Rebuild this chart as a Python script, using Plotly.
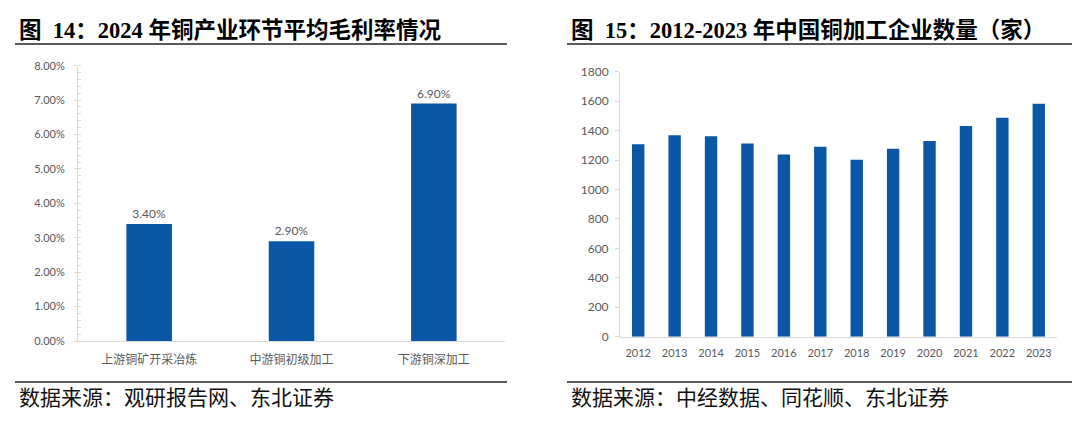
import plotly.graph_objects as go

# ---- data ----
stages = ["上游铜矿开采冶炼", "中游铜初级加工", "下游铜深加工"]
margins = [0.034, 0.029, 0.069]
margin_labels = ["3.40%", "2.90%", "6.90%"]

years = ["2012", "2013", "2014", "2015", "2016", "2017", "2018", "2019",
         "2020", "2021", "2022", "2023"]
companies = [1308, 1369, 1362, 1312, 1238, 1290, 1202, 1276, 1329, 1431, 1487, 1582]

title_left = "图  14：2024 年铜产业环节平均毛利率情况"
title_right = "图  15：2012-2023 年中国铜加工企业数量（家）"
source_left = "数据来源：观研报告网、东北证券"
source_right = "数据来源：中经数据、同花顺、东北证券"

# page body has an 8px default margin: size figure so it fills the window
OFF = 8
W, H = 1080 - OFF, 424 - OFF
BAR = "#0A57A6"
GREY = "#595959"
AXIS = "#D9D9D9"
NUM_FONT = "Lato, Liberation Sans, sans-serif"
CJK_FONT = "Noto Sans CJK SC"
TITLE_FONT = "Liberation Serif, Noto Sans CJK SC"
SRC_FONT = "Liberation Serif, Noto Sans CJK SC"


def px(x):
    return (x - OFF) / W


def py(y):
    return 1 - (y - OFF) / H


fig = go.Figure()

fig.add_trace(go.Bar(
    x=stages, y=margins, text=margin_labels, textposition="outside",
    textfont=dict(family=NUM_FONT, size=12, color=GREY),
    marker=dict(color=BAR, line=dict(width=0)), cliponaxis=False,
    xaxis="x", yaxis="y", hoverinfo="skip", showlegend=False,
))

fig.add_trace(go.Bar(
    x=years, y=companies, width=0.34,
    marker=dict(color=BAR, line=dict(width=0)),
    xaxis="x2", yaxis="y2", hoverinfo="skip", showlegend=False,
))

fig.update_layout(
    width=W, height=H,
    margin=dict(l=0, r=0, t=0, b=0, autoexpand=False),
    paper_bgcolor="white", plot_bgcolor="white",
    bargap=0.68,
    xaxis=dict(
        domain=[px(78), px(505)], anchor="y", showline=True, linecolor=AXIS, linewidth=1,
        ticks="", showgrid=False, zeroline=False, automargin=False,
        tickfont=dict(family=CJK_FONT, size=12, color=GREY),
        ticklabelstandoff=8, fixedrange=True,
    ),
    yaxis=dict(
        domain=[py(341), py(65.7)], anchor="x", range=[0, 0.08],
        tickvals=[i / 100 for i in range(9)], tickformat=".2%",
        showline=True, linecolor=AXIS, linewidth=1, automargin=False,
        ticks="outside", ticklen=3, tickcolor=AXIS,
        minor=dict(ticks="inside", ticklen=3, dtick=0.002, tickcolor=AXIS, showgrid=False),
        showgrid=False, zeroline=False,
        tickfont=dict(family=NUM_FONT, size=11, color=GREY),
        ticklabelstandoff=7, fixedrange=True,
    ),
    xaxis2=dict(
        domain=[px(620), px(1057)], anchor="y2", showline=True, linecolor=AXIS,
        linewidth=1, ticks="", showgrid=False, zeroline=False, automargin=False,
        tickfont=dict(family=NUM_FONT, size=11, color=GREY),
        ticklabelstandoff=6, fixedrange=True,
    ),
    yaxis2=dict(
        domain=[py(336.7), py(71.7)], anchor="x2", range=[0, 1800], dtick=200,
        showline=True, linecolor=AXIS, linewidth=1, automargin=False,
        ticks="outside", ticklen=4, tickcolor=AXIS,
        showgrid=False, zeroline=False,
        tickfont=dict(family=NUM_FONT, size=12, color=GREY),
        ticklabelstandoff=4, fixedrange=True,
    ),
)

annotations = [
    dict(text=f"<b>{title_left}</b>", x=px(17), y=py(30), xanchor="left", yanchor="middle",
         font=dict(family=TITLE_FONT, size=22.5, color="black")),
    dict(text=f"<b>{title_right}</b>", x=px(569), y=py(30), xanchor="left", yanchor="middle",
         font=dict(family=TITLE_FONT, size=22.5, color="black")),
    dict(text=source_left, x=px(17), y=py(398), xanchor="left", yanchor="middle",
         font=dict(family=SRC_FONT, size=21, color="#111111")),
    dict(text=source_right, x=px(569), y=py(398), xanchor="left", yanchor="middle",
         font=dict(family=SRC_FONT, size=21, color="#111111")),
]
for a in annotations:
    a.update(xref="paper", yref="paper", showarrow=False)
fig.update_layout(annotations=annotations)

shapes = []
for (x0, x1) in [(15, 507), (567, 1080)]:
    for y in (44, 382):
        shapes.append(dict(type="line", xref="paper", yref="paper",
                           x0=px(x0), x1=px(x1), y0=py(y), y1=py(y),
                           line=dict(color="#222222", width=1.3)))
fig.update_layout(shapes=shapes)

fig.write_html("out.html", config={"displayModeBar": False})
